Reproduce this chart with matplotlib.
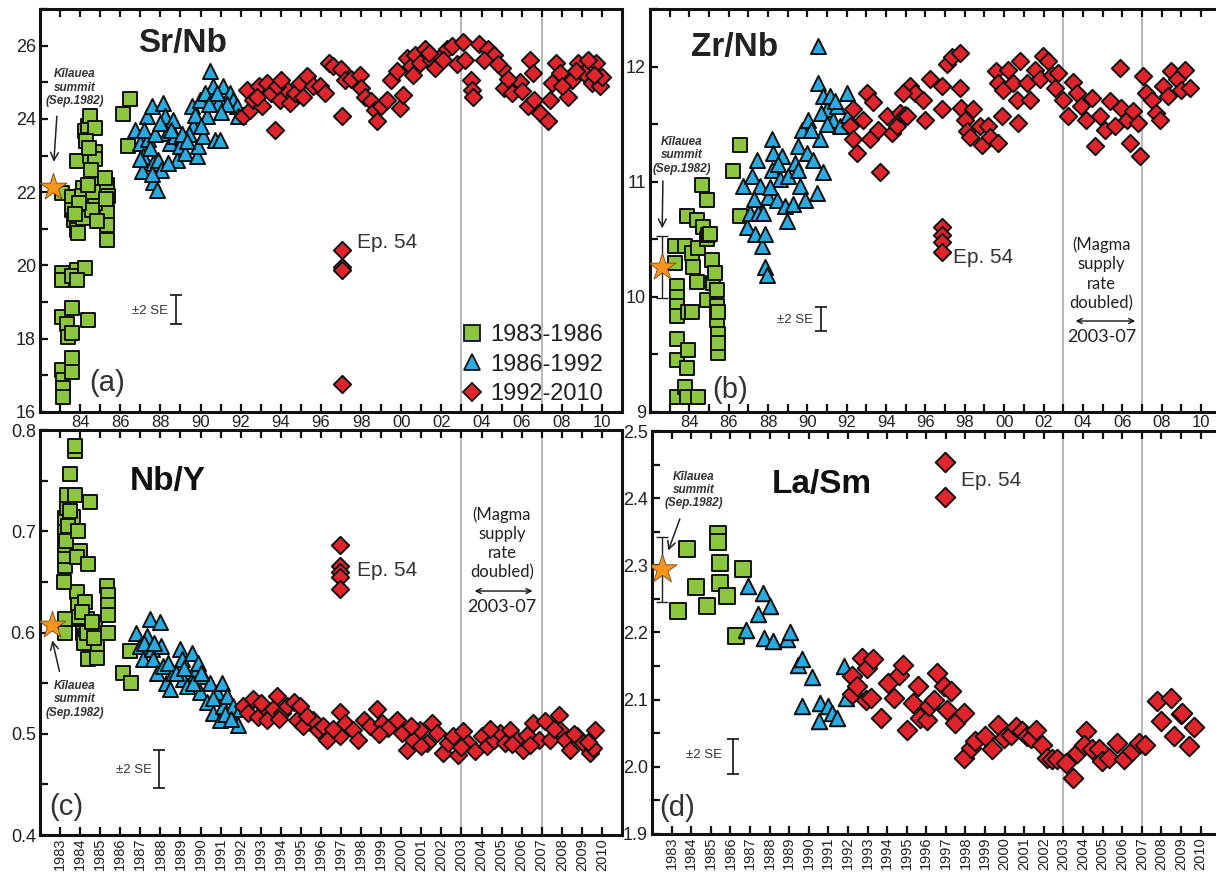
import matplotlib
matplotlib.use("Agg")
import matplotlib.pyplot as plt
from matplotlib.lines import Line2D

plt.rcParams['font.family'] = ['Liberation Sans', 'DejaVu Sans']

# ---------------- colours ----------------
GREEN = '#8cc63f'
BLUE = '#29abe2'
RED = '#e1242b'
ORANGE = '#f7941d'

# ---------------- Panel (a) Sr/Nb ----------------
a_sq_x = [1983.08, 1983.08, 1983.08, 1983.08, 1983.33, 1983.40, 1983.08, 1983.15, 1983.15, 1983.15,
          1983.58, 1983.58, 1983.70, 1983.83, 1983.90, 1984.00, 1984.16, 1984.08, 1984.16, 1983.83,
          1984.24, 1984.40, 1984.49, 1984.74, 1984.49, 1984.74, 1984.74, 1983.83, 1983.58, 1984.24,
          1983.83, 1983.58, 1984.40, 1983.58, 1983.58, 1983.58, 1984.99, 1985.32, 1985.32, 1985.40,
          1985.32, 1985.32, 1985.32, 1984.74, 1984.66, 1986.12, 1986.49, 1986.40,
          1984.30, 1984.45, 1984.55, 1984.40, 1984.60, 1983.95, 1983.75, 1985.30, 1985.25, 1984.85]
a_sq_y = [21.98, 19.79, 19.60, 18.60, 18.40, 18.06, 17.15, 16.87, 16.66, 16.42,
          21.88, 21.52, 21.25, 20.97, 20.88, 21.60, 22.10, 21.90, 21.30, 22.84,
          23.66, 23.80, 24.07, 23.74, 23.00, 23.10, 22.90, 19.88, 19.70, 19.92,
          19.60, 18.83, 18.50, 18.15, 17.47, 17.10, 22.30, 22.20, 22.10, 21.90,
          21.45, 21.10, 20.70, 21.70, 22.00, 24.14, 24.55, 23.25,
          23.40, 23.20, 22.60, 22.20, 21.50, 21.70, 21.40, 21.80, 22.40, 21.20]
a_tri_x = [1986.74, 1986.99, 1987.15, 1987.07, 1987.32, 1987.57, 1987.65, 1987.65, 1987.82, 1987.90,
           1988.15, 1988.23, 1988.31, 1988.48, 1988.65, 1988.73, 1988.81, 1988.98, 1989.23, 1989.56,
           1989.64, 1989.81, 1989.89, 1989.97, 1990.14, 1990.31, 1990.47, 1990.64, 1990.72, 1990.89,
           1990.97, 1991.14, 1991.47, 1991.64, 1991.80, 1991.89, 1987.40, 1988.05, 1989.40, 1990.20,
           1987.20, 1987.50, 1987.75, 1988.00, 1988.40, 1988.55, 1989.10, 1989.30, 1989.70, 1990.00,
           1990.40, 1990.80, 1991.30, 1991.00, 1987.00, 1987.60]
a_tri_y = [23.70, 23.34, 22.98, 22.57, 24.07, 24.34, 22.79, 22.29, 22.07, 22.89,
           24.43, 24.07, 23.61, 23.34, 23.98, 23.52, 22.89, 23.25, 23.07, 24.34,
           23.80, 22.98, 23.25, 24.52, 23.52, 24.07, 25.30, 24.89, 23.43, 24.43,
           23.43, 24.89, 24.71, 24.52, 24.34, 24.07, 23.45, 22.60, 23.60, 24.70,
           23.70, 23.20, 23.60, 23.90, 22.80, 23.70, 23.60, 23.40, 24.10, 23.80,
           24.40, 24.70, 24.40, 24.20, 22.90, 22.50]
a_dia_x = [1992.10, 1992.30, 1992.47, 1992.60, 1992.90, 1993.05, 1993.30, 1993.50, 1993.70, 1993.96,
           1994.20, 1994.46, 1994.70, 1994.96, 1995.30, 1995.60, 1995.96, 1996.20, 1996.40, 1996.60,
           1997.00, 1997.07, 1997.20, 1997.50, 1997.95, 1998.00, 1998.20, 1998.50, 1998.70, 1998.80,
           1999.00, 1999.30, 1999.50, 1999.80, 1999.94, 2000.10, 2000.30, 2000.50, 2000.70, 2000.94,
           2001.20, 2001.50, 2001.70, 2001.94, 2002.30, 2002.55, 2002.80, 2003.10, 2003.20, 2003.50,
           2003.55, 2003.60, 2003.90, 2004.30, 2004.60, 2005.00, 2005.10, 2005.50, 2005.90, 2006.00,
           2006.30, 2006.40, 2006.55, 2006.60, 2006.90, 2007.30, 2007.40, 2007.50, 2007.70, 2007.90,
           2008.30, 2008.50, 2008.80, 2009.10, 2009.50, 2009.70, 2009.90, 2010.00, 1992.80, 1993.80,
           1994.00, 1995.10, 2000.60, 2001.40, 2002.10, 2004.10, 2004.80, 2005.30, 2008.00, 2008.70,
           2009.30, 2009.60]
a_dia_y = [24.07, 24.80, 24.25, 24.52, 24.89, 24.34, 24.98, 24.71, 23.69, 24.52,
           24.85, 24.43, 24.71, 24.98, 25.16, 24.89, 24.90, 24.70, 25.53, 25.44,
           25.35, 24.07, 25.07, 25.10, 25.20, 24.85, 24.60, 24.50, 24.25, 23.93,
           24.34, 24.52, 25.07, 25.30, 24.30, 24.66, 25.66, 25.44, 25.75, 25.53,
           25.90, 25.62, 25.40, 25.70, 25.90, 25.98, 25.50, 26.10, 25.60, 25.07,
           24.80, 24.60, 26.05, 25.90, 25.75, 25.40, 24.85, 24.70, 25.00, 24.75,
           24.34, 25.62, 25.25, 24.52, 24.16, 23.93, 24.52, 24.98, 25.53, 25.25,
           24.60, 25.07, 25.53, 25.25, 24.98, 25.53, 24.90, 25.15, 24.60, 24.90,
           25.05, 24.60, 25.20, 25.80, 25.60, 25.60, 25.50, 25.10, 24.90, 25.30,
           25.60, 25.20]
a_ep54_x = [1997.07, 1997.07, 1997.07, 1997.07]
a_ep54_y = [20.43, 19.97, 19.88, 16.76]
a_star = (1982.65, 22.14)

# ---------------- Panel (b) Zr/Nb ----------------
b_sq_x = [1983.27, 1983.27, 1983.35, 1983.35, 1983.35, 1983.35, 1983.35, 1983.35, 1983.35, 1983.78,
          1983.86, 1983.78, 1983.86, 1983.86, 1983.95, 1983.95, 1984.12, 1984.12, 1984.20, 1984.37,
          1984.37, 1984.46, 1984.46, 1984.63, 1984.71, 1984.88, 1984.88, 1984.97, 1984.88, 1985.05,
          1985.14, 1985.22, 1985.31, 1985.39, 1985.39, 1985.39, 1985.47, 1985.47, 1985.47, 1985.47,
          1986.58, 1986.24, 1986.58]
b_sq_y = [10.44, 10.29, 10.09, 10.00, 9.92, 9.83, 9.63, 9.45, 9.13, 9.22,
          9.13, 10.44, 10.70, 9.38, 9.54, 9.87, 9.87, 10.38, 10.26, 10.67,
          10.13, 10.42, 9.13, 10.97, 10.61, 10.84, 10.50, 10.54, 9.97, 10.55,
          10.32, 10.12, 10.21, 10.06, 9.92, 9.80, 9.68, 9.51, 9.60, 9.87,
          11.32, 11.09, 10.70]
b_tri_x = [1986.75, 1986.92, 1987.08, 1987.17, 1987.34, 1987.42, 1987.50, 1987.59, 1987.68, 1987.76,
           1987.85, 1987.85, 1987.93, 1988.02, 1988.19, 1988.19, 1988.27, 1988.44, 1988.61, 1988.69,
           1988.86, 1988.95, 1989.29, 1989.37, 1989.54, 1989.63, 1989.71, 1989.88, 1989.97, 1990.05,
           1990.31, 1990.47, 1990.56, 1990.56, 1990.64, 1990.81, 1990.81, 1990.98, 1991.15, 1991.32,
           1991.49, 1991.66, 1992.00, 1992.08,
           1987.30, 1988.10, 1988.50, 1989.00, 1989.50, 1990.20, 1990.70, 1991.00, 1991.40]
b_tri_y = [10.96, 10.61, 10.73, 11.05, 10.55, 11.19, 10.73, 10.96, 10.44, 10.73,
           10.55, 10.26, 10.19, 10.87, 11.37, 11.10, 11.25, 10.84, 11.02, 11.22,
           10.79, 10.66, 10.81, 11.16, 11.31, 10.96, 11.45, 10.84, 11.25, 11.54,
           11.19, 10.90, 11.86, 12.18, 11.37, 11.08, 11.74, 11.63, 11.74, 11.54,
           11.66, 11.48, 11.77, 11.58,
           10.85, 10.95, 11.15, 11.05, 11.10, 11.45, 11.60, 11.50, 11.70]
b_dia_x = [1992.17, 1992.34, 1992.51, 1992.34, 1992.85, 1993.02, 1993.19, 1993.36, 1993.61, 1993.70,
           1994.03, 1994.29, 1994.54, 1994.71, 1994.97, 1995.22, 1995.47, 1994.87, 1995.04, 1995.89,
           1995.97, 1996.22, 1996.82, 1996.82, 1997.07, 1997.33, 1997.75, 1997.75, 1997.83, 1998.00,
           1998.09, 1998.26, 1998.43, 1998.77, 1998.85, 1999.19, 1999.27, 1999.70, 1999.87, 1999.61,
           1999.70, 1999.95, 2000.20, 2000.46, 2000.63, 2000.71, 2000.80, 2001.14, 2001.31, 2001.56,
           2001.81, 2001.98, 2002.24, 2002.41, 2002.58, 2002.75, 2003.00, 2003.25, 2003.51, 2003.68,
           2003.93, 2004.18, 2004.44, 2004.61, 2004.86, 2005.12, 2005.37, 2005.62, 2005.88, 2005.96,
           2006.22, 2006.39, 2006.56, 2006.81, 2006.90, 2007.06, 2007.23, 2007.49, 2007.74, 2007.91,
           2008.08, 2008.33, 2008.50, 2008.76, 2009.01, 2009.18, 2009.44]
b_dia_y = [11.48, 11.37, 11.25, 11.63, 11.54, 11.77, 11.37, 11.69, 11.45, 11.08,
           11.57, 11.42, 11.48, 11.60, 11.58, 11.83, 11.77, 11.77, 11.57, 11.71,
           11.54, 11.89, 11.83, 11.63, 12.02, 12.08, 12.12, 11.81, 11.64, 11.54,
           11.44, 11.39, 11.63, 11.48, 11.32, 11.48, 11.39, 11.34, 11.57, 11.96,
           11.86, 11.80, 11.97, 11.86, 11.71, 11.51, 12.05, 11.86, 11.71, 11.97,
           11.89, 12.09, 12.05, 11.93, 11.81, 11.94, 11.71, 11.57, 11.87, 11.77,
           11.66, 11.54, 11.73, 11.31, 11.57, 11.45, 11.70, 11.48, 11.99, 11.64,
           11.54, 11.34, 11.61, 11.51, 11.22, 11.92, 11.77, 11.71, 11.60, 11.54,
           11.83, 11.74, 11.96, 11.89, 11.80, 11.97, 11.81]
b_ep54_x = [1996.82, 1996.82, 1996.82, 1996.82]
b_ep54_y = [10.61, 10.54, 10.48, 10.39]
b_star = (1982.60, 10.26)
b_star_err = 0.27

# ---------------- Panel (c) Nb/Y ----------------
c_sq_x = [1983.25, 1983.25, 1983.25, 1983.25, 1983.25, 1983.25, 1983.25, 1983.33, 1983.33, 1983.50,
          1983.75, 1983.75, 1983.75, 1983.66, 1984.00, 1983.83, 1984.40, 1984.49, 1983.83, 1983.90,
          1984.00, 1984.16, 1984.24, 1984.32, 1984.24, 1984.49, 1984.40, 1984.82, 1984.82, 1984.74,
          1985.32, 1985.40, 1985.40, 1985.40, 1985.40, 1986.13, 1986.55, 1986.47,
          1983.20, 1983.30, 1983.40, 1983.50, 1983.90, 1983.95, 1984.10, 1984.20, 1984.35, 1984.60,
          1984.70]
c_sq_y = [0.600, 0.613, 0.666, 0.676, 0.686, 0.699, 0.713, 0.723, 0.736, 0.757,
          0.779, 0.784, 0.736, 0.714, 0.681, 0.675, 0.668, 0.729, 0.640, 0.627,
          0.613, 0.600, 0.630, 0.613, 0.597, 0.584, 0.574, 0.587, 0.575, 0.607,
          0.646, 0.637, 0.627, 0.617, 0.600, 0.560, 0.550, 0.582,
          0.650, 0.690, 0.705, 0.720, 0.700, 0.615, 0.620, 0.590, 0.600, 0.610,
          0.595]
c_tri_x = [1986.80, 1986.97, 1987.14, 1987.31, 1987.48, 1987.56, 1987.64, 1987.81, 1987.97, 1988.05,
           1988.14, 1988.30, 1988.47, 1988.64, 1989.00, 1989.08, 1989.14, 1989.31, 1989.56, 1989.72,
           1989.88, 1989.97, 1990.14, 1990.31, 1990.47, 1990.64, 1990.80, 1990.97, 1991.05, 1991.14,
           1991.30, 1991.47, 1991.63, 1991.88, 1991.97,
           1987.20, 1987.70, 1988.40, 1988.80, 1989.20, 1989.60, 1990.00, 1990.60, 1991.20, 1991.50]
c_tri_y = [0.600, 0.587, 0.574, 0.597, 0.613, 0.584, 0.574, 0.560, 0.610, 0.587,
           0.567, 0.550, 0.544, 0.560, 0.584, 0.574, 0.554, 0.547, 0.580, 0.560,
           0.570, 0.541, 0.557, 0.531, 0.550, 0.521, 0.541, 0.514, 0.550, 0.527,
           0.537, 0.521, 0.527, 0.509, 0.524,
           0.590, 0.590, 0.570, 0.560, 0.565, 0.550, 0.560, 0.535, 0.520, 0.515]
c_dia_x = [1992.13, 1992.38, 1992.63, 1992.88, 1993.12, 1993.30, 1993.63, 1993.80, 1994.05, 1994.30,
           1994.64, 1994.80, 1995.12, 1995.62, 1995.87, 1994.96, 1996.12, 1996.29, 1996.95, 1996.95,
           1997.20, 1997.62, 1997.87, 1998.12, 1998.45, 1998.78, 1999.03, 1999.36, 1999.78, 2000.03,
           2000.28, 2000.61, 2000.94, 2001.27, 2001.52, 2001.77, 2002.10, 2002.35, 2002.60, 2002.85,
           2003.10, 2003.35, 2003.68, 2004.02, 2004.27, 2004.60, 2004.93, 2005.18, 2005.43, 2005.76,
           2006.09, 2006.26, 2006.59, 2006.84, 2007.17, 2007.42, 2007.84, 2007.92, 2008.17, 2008.42,
           2008.75, 2009.08, 2009.42, 2009.58, 2009.67,
           1993.00, 1993.90, 1995.30, 1996.60, 1998.90, 2000.50, 2001.00, 2003.00, 2004.40, 2005.50,
           2006.40, 2007.60, 2008.60, 2009.30]
c_dia_y = [0.527, 0.521, 0.534, 0.517, 0.527, 0.514, 0.524, 0.537, 0.521, 0.527,
           0.531, 0.514, 0.508, 0.514, 0.504, 0.527, 0.508, 0.494, 0.522, 0.498,
           0.511, 0.504, 0.494, 0.514, 0.508, 0.524, 0.511, 0.506, 0.514, 0.501,
           0.484, 0.494, 0.504, 0.491, 0.511, 0.501, 0.481, 0.491, 0.498, 0.479,
           0.503, 0.491, 0.483, 0.498, 0.488, 0.494, 0.501, 0.491, 0.504, 0.494,
           0.484, 0.499, 0.511, 0.494, 0.513, 0.494, 0.519, 0.504, 0.494, 0.484,
           0.498, 0.491, 0.481, 0.486, 0.504,
           0.530, 0.515, 0.518, 0.505, 0.500, 0.508, 0.488, 0.487, 0.505, 0.490,
           0.489, 0.505, 0.500, 0.492]
c_ep54_x = [1996.95, 1996.95, 1996.95, 1996.95, 1996.95]
c_ep54_y = [0.686, 0.666, 0.660, 0.655, 0.643]
c_star = (1982.58, 0.6075)

# ---------------- Panel (d) La/Sm ----------------
d_sq_x = [1983.34, 1983.80, 1984.22, 1984.82, 1985.38, 1985.38, 1985.45, 1985.45, 1985.84, 1986.27, 1986.66]
d_sq_y = [2.232, 2.324, 2.267, 2.240, 2.346, 2.334, 2.304, 2.273, 2.254, 2.195, 2.294]
d_tri_x = [1986.91, 1986.78, 1987.42, 1987.68, 1987.73, 1988.00, 1988.17, 1988.87, 1989.02, 1989.46,
           1989.67, 1990.18, 1989.67, 1990.52, 1990.57, 1990.99, 1991.20, 1991.45, 1991.80, 1991.88]
d_tri_y = [2.269, 2.204, 2.227, 2.259, 2.192, 2.239, 2.188, 2.190, 2.200, 2.152,
           2.160, 2.134, 2.090, 2.068, 2.095, 2.090, 2.080, 2.073, 2.150, 2.103]
d_dia_x = [1992.22, 1992.20, 1992.47, 1992.73, 1992.98, 1992.90, 1993.20, 1993.30, 1993.67, 1994.06,
           1994.35, 1994.60, 1994.80, 1995.03, 1995.30, 1995.59, 1995.70, 1996.05, 1996.13, 1996.39,
           1996.56, 1996.90, 1997.07, 1997.24, 1997.49, 1997.92, 1997.92, 1998.26, 1998.51, 1998.99,
           1999.33, 1999.67, 1999.96, 2000.30, 2000.56, 2000.90, 2001.15, 2001.32, 2001.58, 2001.92,
           2002.17, 2002.43, 2002.68, 2003.11, 2003.48, 2003.70, 2004.13, 2004.04, 2004.47, 2004.81,
           2004.98, 2005.32, 2005.74, 2006.09, 2006.51, 2006.85, 2007.19, 2007.79, 2007.96, 2008.47,
           2008.64, 2008.98, 2009.06, 2009.40, 2009.66]
d_dia_y = [2.135, 2.108, 2.120, 2.162, 2.147, 2.100, 2.103, 2.160, 2.073, 2.125,
           2.103, 2.137, 2.152, 2.055, 2.095, 2.120, 2.073, 2.070, 2.090, 2.100,
           2.140, 2.120, 2.085, 2.113, 2.065, 2.080, 2.013, 2.028, 2.038, 2.046,
           2.026, 2.063, 2.043, 2.048, 2.060, 2.053, 2.046, 2.043, 2.055, 2.033,
           2.013, 2.011, 2.011, 2.006, 1.983, 2.021, 2.053, 2.033, 2.026, 2.026,
           2.008, 2.013, 2.036, 2.011, 2.023, 2.036, 2.033, 2.098, 2.068, 2.103,
           2.046, 2.078, 2.080, 2.031, 2.060]
d_ep54_x = [1996.98, 1996.98]
d_ep54_y = [2.454, 2.401]
d_star = (1982.49, 2.294)
d_star_err = 0.048

# ---------------- ±2 SE bars (x, centre, half-width) ----------------
se_a = (1988.78, 18.80, 0.40)
se_b = (1990.67, 9.805, 0.105)
se_c = (1987.95, 0.465, 0.019)
se_d = (1986.13, 2.0155, 0.0255)

# ---------------- tick labels ----------------
short_years = list(range(1984, 2011, 2))
short_labels = ['84', '86', '88', '90', '92', '94', '96', '98', '00', '02', '04', '06', '08', '10']
all_years = list(range(1983, 2011))
full_labels = [str(y) for y in all_years]

legend_labels = ['1983-1986', '1986-1992', '1992-2010']

TXT = '#231f20'
EC = '#111111'


def base_axes(ax, ylim, ymajor, ylabels, yminor, full_x):
    ax.set_xlim(1982, 2011)
    ax.set_ylim(*ylim)
    if full_x:
        ax.set_xticks(all_years)
        ax.set_xticklabels(full_labels, rotation=90, fontsize=10.5, color=TXT)
    else:
        ax.set_xticks(short_years)
        ax.set_xticklabels(short_labels, fontsize=12, color=TXT)
        ax.set_xticks(all_years, minor=True)
    ax.set_yticks(ymajor)
    ax.set_yticklabels(ylabels, fontsize=13, color=TXT)
    ax.set_yticks(yminor, minor=True)
    ax.tick_params(which='both', direction='in', top=True, bottom=True, left=True, right=False,
                   length=6, width=1.6, color='#111111')
    ax.tick_params(axis='x', pad=2)
    ax.tick_params(axis='y', pad=3)
    for s in ax.spines.values():
        s.set_linewidth(2.2)
        s.set_color('#111111')
    for yr in (2003, 2007):
        ax.axvline(yr, color='#b8b8b8', lw=1.4, zorder=1)


def points(ax, sqx, sqy, trx, tr_y, dx, dy, ex, ey, big=False):
    ss, st, sd = (140, 125, 100) if big else (95, 118, 78)
    ax.scatter(sqx, sqy, marker='s', s=ss, c=GREEN, edgecolors=EC, linewidths=1.4, zorder=3)
    ax.scatter(trx, tr_y, marker='^', s=st, c=BLUE, edgecolors=EC, linewidths=1.4, zorder=3)
    ax.scatter(dx, dy, marker='D', s=sd, c=RED, edgecolors=EC, linewidths=1.4, zorder=4)
    ax.scatter(ex, ey, marker='D', s=sd, c=RED, edgecolors=EC, linewidths=1.4, zorder=4)


def kilauea(ax, txy, arrow_from, arrow_to):
    ax.text(txy[0], txy[1], 'Kīlauea\nsummit\n(Sep.1982)', ha='center', va='center',
            fontsize=8.5, fontweight='bold', fontstyle='italic', color='#333333', linespacing=1.15,
            zorder=6)
    ax.annotate('', xy=arrow_to, xytext=arrow_from,
                arrowprops=dict(arrowstyle='->', lw=1.1, color='#222222', mutation_scale=14), zorder=6)


def se_bar(ax, se, tx, ty):
    ax.errorbar([se[0]], [se[1]], yerr=[se[2]], fmt='none', ecolor='#111111', elinewidth=1.2,
                capsize=4, capthick=1.2, zorder=5)
    ax.text(tx, ty, '±2 SE', ha='right', va='center', fontsize=9.5, color='#333333')


def magma(ax, xc, ytext, yarrow, x0, x1, ylab):
    ax.text(xc, ytext, '(Magma\nsupply\nrate\ndoubled)', ha='center', va='center', fontsize=12,
            family=['Lato', 'DejaVu Sans'], color='#231f20', linespacing=1.25)
    ax.annotate('', xy=(x1, yarrow), xytext=(x0, yarrow),
                arrowprops=dict(arrowstyle='<->', lw=1.0, color='#111111', mutation_scale=9))
    ax.text(xc, ylab, '2003-07', ha='center', va='center', fontsize=13,
            family=['Lato', 'DejaVu Sans'], color='#231f20')


fig = plt.figure(figsize=(12.16, 8.73), dpi=100)
axA = fig.add_axes([0.0329, 0.5281, 0.4786, 0.4616])
axB = fig.add_axes([0.5345, 0.5281, 0.4693, 0.4616])
axC = fig.add_axes([0.0329, 0.0435, 0.4786, 0.4639])
axD = fig.add_axes([0.5362, 0.0447, 0.4672, 0.4616])

# ---- (a)
base_axes(axA, (16, 27), [16, 18, 20, 22, 24, 26], ['16', '18', '20', '22', '24', '26'],
          [17, 19, 21, 23, 25, 27], False)
points(axA, a_sq_x, a_sq_y, a_tri_x, a_tri_y, a_dia_x, a_dia_y, a_ep54_x, a_ep54_y)
axA.scatter([a_star[0]], [a_star[1]], marker='*', s=420, c=ORANGE, edgecolors='#6b4a1a',
            linewidths=0.6, zorder=6)
axA.text(0.245, 0.915, 'Sr/Nb', transform=axA.transAxes, ha='center', va='center',
         fontsize=24, fontweight='bold', color='#222222')
axA.text(0.115, 0.072, '(a)', transform=axA.transAxes, ha='center', va='center',
         fontsize=21, color='#333333')
axA.text(1997.8, 20.62, 'Ep. 54', ha='left', va='center', fontsize=15, color='#333333')
kilauea(axA, (1983.74, 24.85), (1982.85, 24.15), (1982.68, 22.75))
se_bar(axA, se_a, 1988.4, 18.76)
handles = [Line2D([], [], ls='none', marker='s', ms=11, mfc=GREEN, mec=EC, mew=1.3),
           Line2D([], [], ls='none', marker='^', ms=12, mfc=BLUE, mec=EC, mew=1.3),
           Line2D([], [], ls='none', marker='D', ms=9.5, mfc=RED, mec=EC, mew=1.3)]
leg = axA.legend(handles, legend_labels, loc='lower right', bbox_to_anchor=(0.975, 0.005),
                 frameon=False, fontsize=17, handlelength=0.8, handletextpad=0.35,
                 labelspacing=0.32, borderpad=0.2, borderaxespad=0)
for t in leg.get_texts():
    t.set_color('#231f20')

# ---- (b)
base_axes(axB, (9, 12.5), [9, 10, 11, 12], ['9', '10', '11', '12'], [9.5, 10.5, 11.5, 12.5], False)
points(axB, b_sq_x, b_sq_y, b_tri_x, b_tri_y, b_dia_x, b_dia_y, b_ep54_x, b_ep54_y)
axB.errorbar([b_star[0]], [b_star[1]], yerr=[b_star_err], fmt='none', ecolor='#222222',
             elinewidth=1.0, capsize=4, capthick=1.0, zorder=5)
axB.scatter([b_star[0]], [b_star[1]], marker='*', s=420, c=ORANGE, edgecolors='#6b4a1a',
            linewidths=0.6, zorder=6)
axB.text(0.148, 0.905, 'Zr/Nb', transform=axB.transAxes, ha='center', va='center',
         fontsize=24, fontweight='bold', color='#222222')
axB.text(0.14, 0.055, '(b)', transform=axB.transAxes, ha='center', va='center',
         fontsize=21, color='#333333')
axB.text(1997.4, 10.34, 'Ep. 54', ha='left', va='center', fontsize=15, color='#333333')
kilauea(axB, (1983.63, 11.23), (1982.66, 11.03), (1982.62, 10.57))
se_bar(axB, se_b, 1990.28, 9.80)
magma(axB, 2004.95, 10.20, 9.79, 2003.49, 2006.8, 9.65)

# ---- (c)
base_axes(axC, (0.4, 0.8), [0.4, 0.5, 0.6, 0.7, 0.8], ['0.4', '0.5', '0.6', '0.7', '0.8'],
          [0.45, 0.55, 0.65, 0.75], True)
points(axC, c_sq_x, c_sq_y, c_tri_x, c_tri_y, c_dia_x, c_dia_y, c_ep54_x, c_ep54_y)
axC.scatter([c_star[0]], [c_star[1]], marker='*', s=420, c=ORANGE, edgecolors='#6b4a1a',
            linewidths=0.6, zorder=6)
axC.text(0.22, 0.872, 'Nb/Y', transform=axC.transAxes, ha='center', va='center',
         fontsize=24, fontweight='bold', color='#111111')
axC.text(0.045, 0.069, '(c)', transform=axC.transAxes, ha='center', va='center',
         fontsize=21, color='#333333')
axC.text(1997.8, 0.661, 'Ep. 54', ha='left', va='center', fontsize=15, color='#333333')
kilauea(axC, (1983.74, 0.534), (1983.0, 0.559), (1982.58, 0.595))
se_bar(axC, se_c, 1987.58, 0.4645)
magma(axC, 2005.02, 0.688, 0.641, 2003.52, 2006.68, 0.625)

# ---- (d)
base_axes(axD, (1.9, 2.5), [1.9, 2.0, 2.1, 2.2, 2.3, 2.4, 2.5],
          ['1.9', '2.0', '2.1', '2.2', '2.3', '2.4', '2.5'],
          [1.95, 2.05, 2.15, 2.25, 2.35, 2.45], True)
points(axD, d_sq_x, d_sq_y, d_tri_x, d_tri_y, d_dia_x, d_dia_y, d_ep54_x, d_ep54_y, big=True)
axD.errorbar([d_star[0]], [d_star[1]], yerr=[d_star_err], fmt='none', ecolor='#222222',
             elinewidth=1.0, capsize=4, capthick=1.0, zorder=5)
axD.scatter([d_star[0]], [d_star[1]], marker='*', s=480, c=ORANGE, edgecolors='#6b4a1a',
            linewidths=0.6, zorder=6)
axD.text(0.299, 0.866, 'La/Sm', transform=axD.transAxes, ha='center', va='center',
         fontsize=24, fontweight='bold', color='#111111')
axD.text(0.044, 0.065, '(d)', transform=axD.transAxes, ha='center', va='center',
         fontsize=21, color='#333333')
axD.text(1997.77, 2.427, 'Ep. 54', ha='left', va='center', fontsize=15, color='#333333')
kilauea(axD, (1984.14, 2.412), (1983.47, 2.373), (1982.78, 2.318))
se_bar(axD, se_d, 1985.57, 2.018)

fig.savefig('out.png', dpi=100)
